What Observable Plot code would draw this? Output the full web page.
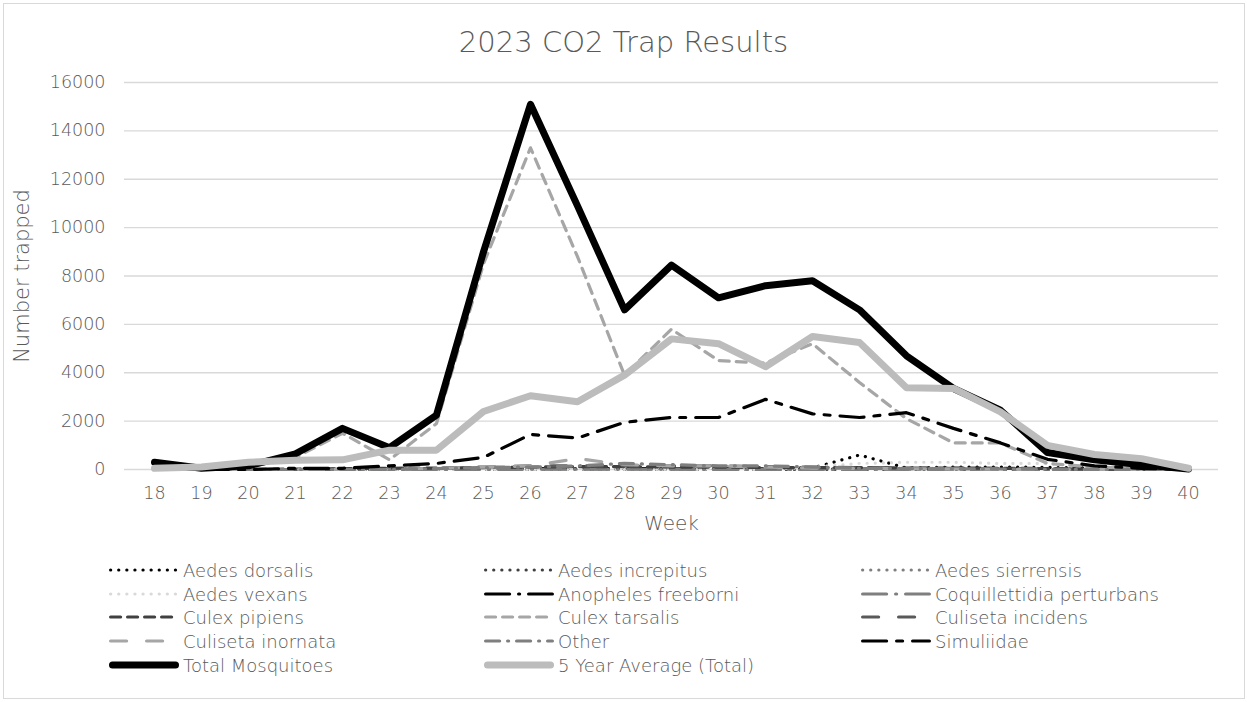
<!DOCTYPE html>
<html>
<head>
<meta charset="utf-8">
<script src="https://cdn.jsdelivr.net/npm/d3@7"></script>
<script src="https://cdn.jsdelivr.net/npm/@observablehq/plot@0.6"></script>
<style>
  html, body { margin: 0; padding: 0; background: #fff; }
  #wrap { position: relative; width: 1247px; height: 702px; font-family: "DejaVu Sans", sans-serif; font-weight: 200; color: #595959; overflow: hidden; }
  #border { position: absolute; left: 3px; top: 3px; width: 1240px; height: 694px; border: 1px solid #d9d9d9; }
  #title { position: absolute; left: 0; top: 23px; width: 1247px; text-align: center; font-size: 29px; line-height: 38px; }
  #plot { position: absolute; left: 0; top: 60px; }
  #legend { position: absolute; left: 0; top: 0; width: 1247px; }
  .item { position: absolute; height: 24px; display: flex; align-items: center; font-size: 18px; white-space: nowrap; }
  .item svg { flex: none; margin-right: 3px; }
</style>
</head>
<body>
<div id="wrap">
  <div id="border"></div>
  <div id="title">2023 CO2 Trap Results</div>
  <div id="plot"></div>
  <div id="legend"></div>
</div>
<script>
// ---- Data ----
const weeks = [18,19,20,21,22,23,24,25,26,27,28,29,30,31,32,33,34,35,36,37,38,39,40];
const yTicks = [0,2000,4000,6000,8000,10000,12000,14000,16000];

const aedesDorsalis      = [0,0,0,0,0,0,0,0,0,0,0,0,0,0,60,600,60,100,100,90,60,20,0];
const aedesIncrepitus    = [0,0,0,0,20,30,20,10,10,0,0,0,0,0,0,0,0,0,0,0,0,0,0];
const aedesSierrensis    = [0,0,0,0,0,0,0,10,20,30,40,50,50,40,40,50,50,40,30,20,10,0,0];
const aedesVexans        = [0,0,0,0,0,0,0,0,0,0,0,0,0,0,100,250,300,300,250,250,100,30,0];
const anophelesFreeborni = [0,0,0,0,10,20,30,30,40,30,40,30,30,20,20,20,20,10,10,10,0,0,0];
const coquillettidia     = [0,0,0,0,0,0,0,0,10,10,10,10,0,0,0,0,0,0,0,0,0,0,0];
const culexPipiens       = [0,0,0,20,30,50,60,80,100,120,120,100,100,80,80,80,60,60,50,40,20,10,0];
const culexTarsalis      = [100,50,100,500,1500,400,1900,8500,13300,8800,3900,5800,4500,4400,5200,3600,2100,1100,1100,250,100,50,0];
const culisetaIncidens   = [0,0,0,0,0,0,50,100,150,150,150,150,150,120,100,80,60,50,30,20,10,0,0];
const culisetaInornata   = [0,0,0,0,0,0,50,100,150,450,200,150,150,100,60,40,30,20,10,0,0,0,0];
const other              = [0,0,0,0,0,0,40,80,100,150,250,200,150,150,100,50,40,30,20,10,0,0,0];
const simuliidae         = [0,0,0,50,50,150,250,500,1450,1300,1950,2150,2150,2900,2300,2150,2350,1700,1100,420,150,50,0];
const totalMosquitoes    = [300,50,150,650,1700,900,2250,9000,15100,10900,6600,8450,7100,7600,7800,6600,4700,3350,2450,700,400,200,20];
const fiveYearAverage    = [50,100,300,380,400,800,800,2400,3050,2800,3900,5400,5200,4250,5500,5250,3380,3350,2380,1000,620,450,50];

const seriesNames = ["Aedes dorsalis","Aedes increpitus","Aedes sierrensis","Aedes vexans","Anopheles freeborni","Coquillettidia perturbans","Culex pipiens","Culex tarsalis","Culiseta incidens","Culiseta inornata","Other","Simuliidae","Total Mosquitoes","5 Year Average (Total)"];
const seriesValues = [aedesDorsalis,aedesIncrepitus,aedesSierrensis,aedesVexans,anophelesFreeborni,coquillettidia,culexPipiens,culexTarsalis,culisetaIncidens,culisetaInornata,other,simuliidae,totalMosquitoes,fiveYearAverage];

// ---- Styles ----
const styles = [
  {stroke:"#000000", width:3.2, dash:"0.1,8",        cap:"round"},
  {stroke:"#404040", width:3.2, dash:"0.1,8",        cap:"round"},
  {stroke:"#7f7f7f", width:3.2, dash:"0.1,8",        cap:"round"},
  {stroke:"#d9d9d9", width:3.2, dash:"0.1,8",        cap:"round"},
  {stroke:"#000000", width:3.2, dash:"24,9,1,9",     cap:"round"},
  {stroke:"#7f7f7f", width:3.2, dash:"24,9,1,9",     cap:"round"},
  {stroke:"#404040", width:3.2, dash:"10,7",         cap:"round"},
  {stroke:"#a6a6a6", width:3.2, dash:"10,7",         cap:"round"},
  {stroke:"#595959", width:3.2, dash:"16,20",        cap:"round"},
  {stroke:"#a6a6a6", width:3.2, dash:"16,20",        cap:"round"},
  {stroke:"#7f7f7f", width:3.2, dash:"14,8,1,8",     cap:"round"},
  {stroke:"#000000", width:3.2, dash:"24,10,6,10",   cap:"round"},
  {stroke:"#000000", width:7,   dash:null,           cap:"round"},
  {stroke:"#bcbcbc", width:7,   dash:null,           cap:"round"}
];

const rows = [];
seriesNames.forEach((name, i) => {
  seriesValues[i].forEach((v, j) => rows.push({series: name, week: weeks[j], value: v}));
});

const fontFamily = '"DejaVu Sans", sans-serif';

const chart = Plot.plot({
  width: 1247,
  height: 480,
  marginTop: 22,
  marginBottom: 71,
  marginLeft: 124,
  marginRight: 29,
  style: {fontFamily, fontSize: "17.5px", fontWeight: 200, color: "#595959", background: "transparent", overflow: "visible"},
  x: {type: "point", domain: weeks, padding: 0.5, label: null},
  y: {domain: [0, 16000], label: null},
  marks: [
    Plot.gridY(yTicks, {stroke: "#d9d9d9", strokeOpacity: 1, strokeWidth: 1.4}),
    Plot.axisY(yTicks, {tickSize: 0, tickPadding: 19, tickFormat: d => String(d), label: null}),
    Plot.axisX(weeks, {tickSize: 0, tickPadding: 17, label: null}),
    ...seriesNames.map((name, i) => Plot.line(rows.filter(r => r.series === name), {
      x: "week", y: "value",
      stroke: styles[i].stroke,
      strokeWidth: styles[i].width,
      strokeDasharray: styles[i].dash,
      strokeLinecap: styles[i].cap,
      strokeLinejoin: "round"
    })),
    Plot.text(["Week"], {frameAnchor: "bottom", dy: 60, text: d => d, fontSize: 20, fill: "#595959"}),
    Plot.text(["Number trapped"], {frameAnchor: "left", dx: -102, rotate: -90, textAnchor: "middle", text: d => d, fontSize: 21, fill: "#595959"})
  ]
});
document.getElementById("plot").appendChild(chart);

// ---- Legend ----
const legend = document.getElementById("legend");
const colX = [108, 483, 860];
const rowY = [570, 594, 617, 641, 665];
seriesNames.forEach((name, i) => {
  const c = i % 3, r = Math.floor(i / 3);
  const item = document.createElement("div");
  item.className = "item";
  item.style.left = colX[c] + "px";
  item.style.top = (rowY[r] - 12) + "px";
  const s = styles[i];
  const ns = "http://www.w3.org/2000/svg";
  const svg = document.createElementNS(ns, "svg");
  svg.setAttribute("width", 72);
  svg.setAttribute("height", 14);
  const ln = document.createElementNS(ns, "line");
  ln.setAttribute("x1", s.width / 2 + 1);
  ln.setAttribute("x2", 71 - s.width / 2);
  ln.setAttribute("y1", 7);
  ln.setAttribute("y2", 7);
  ln.setAttribute("stroke", s.stroke);
  ln.setAttribute("stroke-width", s.width);
  ln.setAttribute("stroke-linecap", s.cap);
  if (s.dash) ln.setAttribute("stroke-dasharray", s.dash);
  svg.appendChild(ln);
  item.appendChild(svg);
  const span = document.createElement("span");
  span.textContent = name;
  item.appendChild(span);
  legend.appendChild(item);
});
</script>
</body>
</html>
